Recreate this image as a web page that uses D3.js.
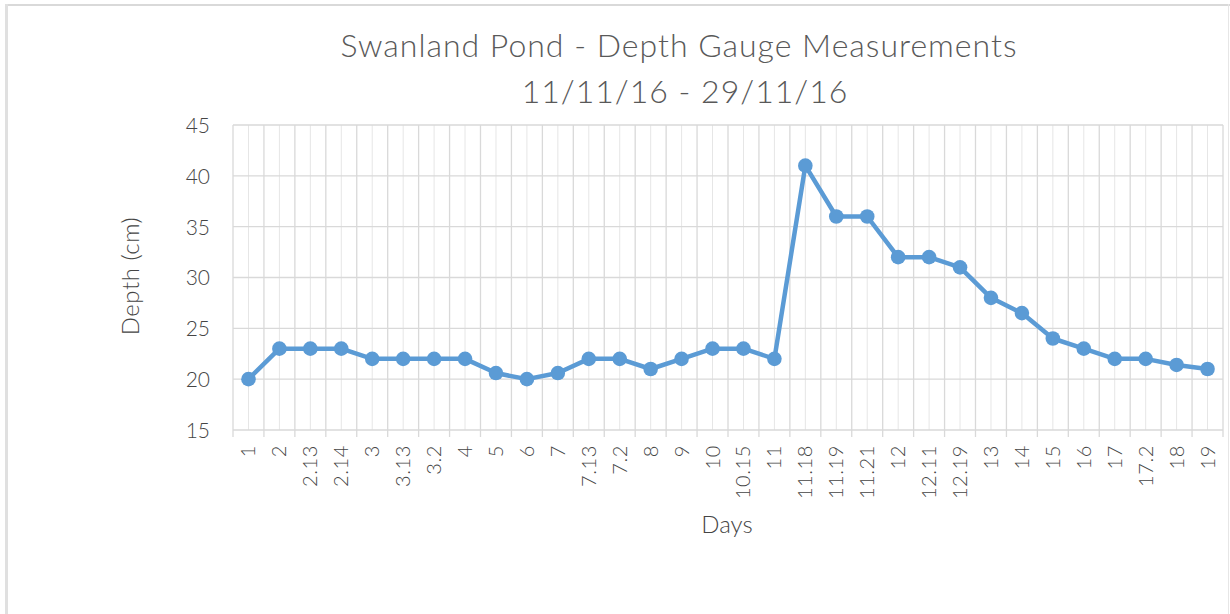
<!DOCTYPE html>
<html>
<head>
<meta charset="utf-8">
<script src="https://cdn.jsdelivr.net/npm/d3@7"></script>
<style>
  html, body { margin: 0; padding: 0; background: #fff; }
  svg { display: block; }
</style>
</head>
<body>
<svg id="chart" width="1230" height="614"></svg>
<script>
const categories = ["1","2","2.13","2.14","3","3.13","3.2","4","5","6","7","7.13","7.2","8","9","10","10.15","11","11.18","11.19","11.21","12","12.11","12.19","13","14","15","16","17","17.2","18","19"];
const depthValues = [20,23,23,23,22,22,22,22,20.6,20,20.6,22,22,21,22,23,23,22,41,36,36,32,32,31,28,26.5,24,23,22,22,21.4,21];
const yTicks = [15,20,25,30,35,40,45];
const titleLines = ["Swanland Pond - Depth Gauge Measurements", "11/11/16 - 29/11/16"];
const xTitle = "Days";
const yTitle = "Depth (cm)";

const svg = d3.select("#chart");
const W = 1230, H = 614;
const font = "Lato, 'Open Sans', sans-serif";
const textColor = "#595959";
const labelColor = "#454545";
const gridColor = "#d9d9d9";
const lineColor = "#5b9bd5";

// outer frame
svg.append("rect").attr("x", 0).attr("y", 0).attr("width", W).attr("height", H).attr("fill", "#fff");
svg.append("line").attr("x1", 5).attr("x2", W).attr("y1", 5).attr("y2", 5).attr("stroke", "#d9d9d9").attr("stroke-width", 2);
svg.append("line").attr("x1", 6.5).attr("x2", 6.5).attr("y1", 4).attr("y2", H).attr("stroke", "#e0e0e0").attr("stroke-width", 3);
svg.append("line").attr("x1", 1228.5).attr("x2", 1228.5).attr("y1", 4).attr("y2", H).attr("stroke", "#e6e6e6").attr("stroke-width", 1);

const plot = {left: 233, right: 1223, top: 125, bottom: 430};

const x = d3.scaleBand().domain(categories).range([plot.left, plot.right]).padding(0);
const y = d3.scaleLinear().domain([15, 45]).range([plot.bottom, plot.top]);

const g = svg.append("g");

// minor vertical gridlines (band centers)
g.selectAll("line.vminor").data(categories).enter().append("line")
  .attr("x1", d => x(d) + x.bandwidth() / 2).attr("x2", d => x(d) + x.bandwidth() / 2)
  .attr("y1", plot.top).attr("y2", plot.bottom)
  .attr("stroke", "#e6e6e6").attr("stroke-width", 1);

// major vertical gridlines (band edges)
const edges = categories.map(d => x(d)).concat([plot.right]);
g.selectAll("line.vmajor").data(edges).enter().append("line")
  .attr("x1", d => d).attr("x2", d => d)
  .attr("y1", plot.top).attr("y2", plot.bottom + 7)
  .attr("stroke", gridColor).attr("stroke-width", 1.3);

// horizontal gridlines
g.selectAll("line.h").data(yTicks).enter().append("line")
  .attr("x1", plot.left).attr("x2", plot.right)
  .attr("y1", d => y(d)).attr("y2", d => y(d))
  .attr("stroke", gridColor).attr("stroke-width", 1.3);

// y axis labels
const yAxis = d3.axisLeft(y).tickValues(yTicks).tickSize(0).tickPadding(0);
const ya = svg.append("g").attr("transform", `translate(${210},0)`).call(yAxis);
ya.select(".domain").remove();
ya.selectAll("text").attr("font-family", font).attr("font-size", 21).attr("font-weight", 300)
  .attr("fill", labelColor).attr("dy", "0.35em");

// x axis labels
const xAxis = d3.axisBottom(x).tickSize(0).tickPadding(0);
const xa = svg.append("g").attr("transform", `translate(0,${plot.bottom})`).call(xAxis);
xa.select(".domain").remove();
xa.selectAll("text")
  .attr("font-family", font).attr("font-size", 20).attr("font-weight", 300).attr("fill", labelColor)
  .attr("letter-spacing", 0.6)
  .attr("transform", "rotate(-90)")
  .attr("text-anchor", "end")
  .attr("x", -15).attr("y", 0).attr("dy", "0.35em");

// line
const line = d3.line()
  .x((d, i) => x(categories[i]) + x.bandwidth() / 2)
  .y(d => y(d));
g.append("path").datum(depthValues)
  .attr("d", line).attr("fill", "none")
  .attr("stroke", lineColor).attr("stroke-width", 4.5).attr("stroke-linejoin", "round");

g.selectAll("circle.pt").data(depthValues).enter().append("circle")
  .attr("cx", (d, i) => x(categories[i]) + x.bandwidth() / 2)
  .attr("cy", d => y(d))
  .attr("r", 7.3)
  .attr("fill", lineColor);

// titles
svg.append("text").attr("x", 679).attr("y", 57)
  .attr("text-anchor", "middle").attr("font-family", font).attr("font-weight", 300)
  .attr("font-size", 32).attr("letter-spacing", 1).attr("fill", textColor).text(titleLines[0]);
svg.append("text").attr("x", 685).attr("y", 103)
  .attr("text-anchor", "middle").attr("font-family", font).attr("font-weight", 300)
  .attr("font-size", 32).attr("letter-spacing", 1).attr("fill", textColor).text(titleLines[1]);

svg.append("text").attr("x", 727).attr("y", 533)
  .attr("text-anchor", "middle").attr("font-family", font).attr("font-weight", 300)
  .attr("font-size", 24).attr("fill", labelColor).text(xTitle);

svg.append("text").attr("transform", "translate(139,276) rotate(-90)")
  .attr("text-anchor", "middle").attr("font-family", font).attr("font-weight", 300)
  .attr("font-size", 24).attr("letter-spacing", 0.5).attr("fill", labelColor).text(yTitle);
</script>
</body>
</html>
